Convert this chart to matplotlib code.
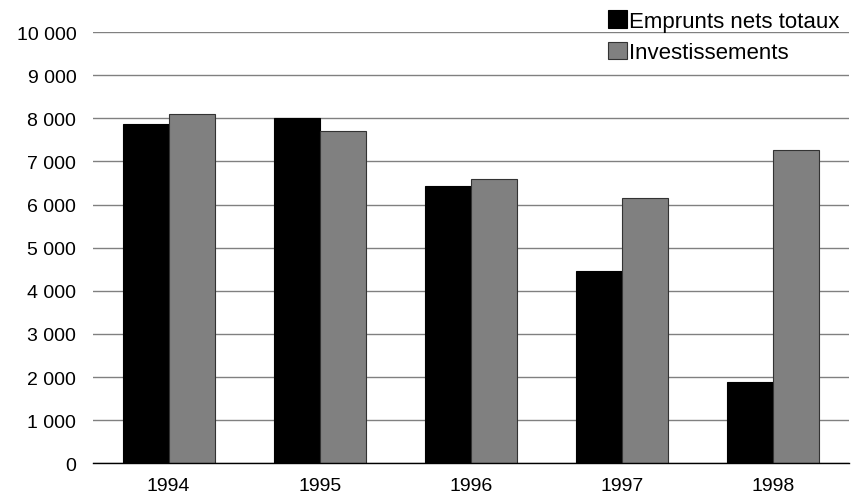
import matplotlib
matplotlib.use("Agg")
import matplotlib.pyplot as plt
import numpy as np
from matplotlib.ticker import FuncFormatter, MultipleLocator

# Data
years = ["1994", "1995", "1996", "1997", "1998"]
emprunts = [7870, 8020, 6430, 4460, 1885]
investissements = [8100, 7705, 6590, 6150, 7265]

plt.rcParams['font.family'] = ['Liberation Sans', 'DejaVu Sans']

fig = plt.figure(figsize=(8.55, 5.02), dpi=100)
ax = fig.add_axes([0.1088, 0.0751, 0.8842, 0.8589])

x = np.arange(len(years))
width = 0.304
ax.bar(x - width / 2, emprunts, width, color="black", edgecolor="black",
       linewidth=0.8, label="Emprunts nets totaux", zorder=3)
ax.bar(x + width / 2, investissements, width, color="#808080", edgecolor="#333333",
       linewidth=0.8, label="Investissements", zorder=3)

ax.set_xlim(-0.5, len(years) - 0.5)
ax.set_ylim(0, 10000)
ax.yaxis.set_major_locator(MultipleLocator(1000))
ax.yaxis.set_major_formatter(FuncFormatter(lambda v, p: f"{int(v):,}".replace(",", " ")))
ax.set_xticks(x)
ax.set_xticklabels(years)

ax.grid(axis="y", color="#808080", linewidth=1.0, zorder=0)
for s in ["left", "right", "top"]:
    ax.spines[s].set_visible(False)
ax.spines["bottom"].set_color("black")
ax.spines["bottom"].set_linewidth(1.0)
ax.spines["bottom"].set_zorder(4)
ax.tick_params(axis="both", length=0, labelsize=14, colors="black")
ax.tick_params(axis="y", pad=12)
ax.tick_params(axis="x", pad=10)

fig.legend(loc="upper right", bbox_to_anchor=(0.995, 1.0), frameon=False,
           fontsize=16, handlelength=0.85, handleheight=0.85, handletextpad=0.1,
           labelspacing=0.45, borderaxespad=0.1)

fig.savefig("out.png", dpi=100)
